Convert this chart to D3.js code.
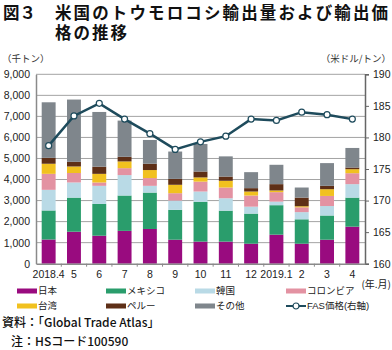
<!DOCTYPE html>
<html>
<head>
<meta charset="utf-8">
<script src="https://cdn.jsdelivr.net/npm/d3@7"></script>
<style>
  body { margin: 0; background: #fff; }
  svg { display: block; font-family: "Liberation Sans", "Noto Sans CJK JP", sans-serif; }
</style>
</head>
<body>
<div id="chart"></div>
<script>
// data (千トン, 米ドル/トン)
const months = ["2018.4", "5", "6", "7", "8", "9", "10", "11", "12", "2019.1", "2", "3", "4"];
const japan    = [1150, 1520, 1330, 1560, 1650, 1140, 1050, 1050, 950, 1380, 950, 1140, 1760];
const mexico   = [1380, 1620, 1510, 1680, 1730, 1420, 1890, 1470, 1430, 1400, 1160, 1150, 1380];
const korea    = [980, 720, 860, 970, 320, 440, 490, 590, 330, 170, 340, 450, 640];
const colombia = [760, 450, 160, 330, 370, 350, 470, 510, 530, 450, 230, 480, 520];
const taiwan   = [480, 310, 410, 320, 380, 400, 200, 320, 190, 80, 50, 320, 190];
const peru     = [280, 220, 340, 220, 300, 280, 280, 200, 160, 300, 410, 160, 80];
const other    = [2640, 2960, 2600, 1720, 1130, 1300, 1310, 960, 760, 920, 480, 1080, 930];
const fasPrice = [178.7, 183.4, 185.4, 182.9, 180.6, 178.1, 179.3, 180.2, 182.9, 182.7, 184.0, 183.6, 182.9];

const seriesNames = ["日本", "メキシコ", "韓国", "コロンビア", "台湾", "ペルー", "その他"];
const seriesKeys = ["japan", "mexico", "korea", "colombia", "taiwan", "peru", "other"];
const colors = ["#990b7f", "#2a9d6c", "#b9dae6", "#e392a2", "#f1c11f", "#5e2f17", "#7f868c"];
const leftTicks = [0, 1000, 2000, 3000, 4000, 5000, 6000, 7000, 8000, 9000];
const rightTicks = [160, 165, 170, 175, 180, 185, 190];

const width = 392, height = 350;
const margin = { top: 74.3, right: 27, bottom: 86.3, left: 36 };

const table = months.map((m, i) => ({
  month: m, japan: japan[i], mexico: mexico[i], korea: korea[i], colombia: colombia[i],
  taiwan: taiwan[i], peru: peru[i], other: other[i], price: fasPrice[i]
}));

const svg = d3.select("#chart").append("svg")
  .attr("width", width)
  .attr("height", height);

// title
const jp = "'Noto Sans CJK JP', sans-serif";
svg.append("text").attr("x", 3).attr("y", 19).attr("font-family", jp).attr("font-weight", 700)
  .attr("font-size", 16.5).attr("fill", "#111").text("図３");
svg.append("text").attr("x", 55).attr("y", 19).attr("font-family", jp).attr("font-weight", 700)
  .attr("font-size", 16.5).attr("fill", "#111")
  .attr("textLength", 333).attr("lengthAdjust", "spacing")
  .text("米国のトウモロコシ輸出量および輸出価");
svg.append("text").attr("x", 55).attr("y", 39).attr("font-family", jp).attr("font-weight", 700)
  .attr("font-size", 16.5).attr("fill", "#111")
  .attr("textLength", 72).attr("lengthAdjust", "spacing")
  .text("格の推移");

// scales
const x = d3.scaleBand()
  .domain(months)
  .range([margin.left, width - margin.right])
  .paddingInner(0.45)
  .paddingOuter(0.225);

const y = d3.scaleLinear()
  .domain([0, 9000])
  .range([height - margin.bottom, margin.top]);

const yRight = d3.scaleLinear()
  .domain([160, 190])
  .range([height - margin.bottom, margin.top]);

// grid
svg.append("g")
  .selectAll("line")
  .data(leftTicks.slice(1))
  .join("line")
  .attr("x1", margin.left)
  .attr("x2", width - margin.right)
  .attr("y1", d => y(d))
  .attr("y2", d => y(d))
  .attr("stroke", "#a3a3a3")
  .attr("stroke-width", 1);

// stacked bars
const stack = d3.stack().keys(seriesKeys);
const layers = stack(table);

svg.append("g")
  .selectAll("g")
  .data(layers)
  .join("g")
  .attr("fill", (d, i) => colors[i])
  .selectAll("rect")
  .data(d => d)
  .join("rect")
  .attr("x", d => x(d.data.month))
  .attr("y", d => y(d[1]))
  .attr("width", x.bandwidth())
  .attr("height", d => y(d[0]) - y(d[1]));

// axes
const yAxis = d3.axisLeft(y).tickValues(leftTicks).tickSize(0).tickPadding(6)
  .tickFormat(d3.format(","));
const yAxisGroup = svg.append("g")
  .attr("transform", `translate(${margin.left}, 0)`)
  .call(yAxis);
yAxisGroup.select(".domain").attr("stroke", "#8a8a8a").attr("stroke-width", 1.5);

const yAxisR = d3.axisRight(yRight).tickValues(rightTicks).tickSize(4).tickPadding(4);
const yAxisRGroup = svg.append("g")
  .attr("transform", `translate(${width - margin.right}, 0)`)
  .call(yAxisR);
yAxisRGroup.select(".domain").attr("stroke", "#666").attr("stroke-width", 1.5);
yAxisRGroup.selectAll(".tick line").attr("stroke", "#666");

const xAxisGroup = svg.append("g")
  .attr("transform", `translate(0, ${height - margin.bottom})`)
  .call(d3.axisBottom(x).tickSize(0).tickPadding(7));
xAxisGroup.select(".domain").attr("stroke", "#8a8a8a").attr("stroke-width", 1.5);

// small ticks between categories
xAxisGroup.selectAll(".sep")
  .data(months.slice(1))
  .join("line")
  .attr("class", "sep")
  .attr("x1", d => x(d) - x.step() * x.paddingInner() / 2)
  .attr("x2", d => x(d) - x.step() * x.paddingInner() / 2)
  .attr("y1", 0)
  .attr("y2", 3)
  .attr("stroke", "#8a8a8a");

svg.selectAll(".tick text")
  .attr("font-size", 10.5)
  .attr("fill", "#222");

// FAS price line
const line = d3.line()
  .x(d => x(d.month) + x.bandwidth() / 2)
  .y(d => yRight(d.price));

svg.append("path")
  .datum(table)
  .attr("fill", "none")
  .attr("stroke", "#1e4b5c")
  .attr("stroke-width", 2.5)
  .attr("d", line);

svg.append("g")
  .selectAll("circle")
  .data(table)
  .join("circle")
  .attr("cx", d => x(d.month) + x.bandwidth() / 2)
  .attr("cy", d => yRight(d.price))
  .attr("r", 3)
  .attr("fill", "#fff")
  .attr("stroke", "#1e4b5c")
  .attr("stroke-width", 1.2);

// unit labels
svg.append("text").attr("x", 2).attr("y", 62).attr("font-size", 9.5).attr("fill", "#333")
  .attr("font-family", jp).text("（千トン）");
svg.append("text").attr("x", 391).attr("y", 62).attr("font-size", 9.5).attr("fill", "#333")
  .attr("font-family", jp).attr("text-anchor", "end").text("（米ドル/トン）");
svg.append("text").attr("x", 391).attr("y", 288).attr("font-size", 10).attr("fill", "#222")
  .attr("font-family", jp).attr("text-anchor", "end").text("(年.月)");

// legend
const legendX = [17, 106, 195, 286];
const legendItems = seriesNames.map((n, i) => ({ name: n, color: colors[i], type: "bar" }));
legendItems.push({ name: "FAS価格(右軸)", color: "#1e4b5c", type: "line" });

const legend = svg.append("g");
legendItems.forEach((item, k) => {
  const col = k % 4, row = Math.floor(k / 4);
  const lx = legendX[col], ly = 291 + row * 15;
  const g = legend.append("g").attr("transform", `translate(${lx}, ${ly})`);
  if (item.type === "bar") {
    g.append("rect").attr("x", 0).attr("y", -2.5).attr("width", 20).attr("height", 5).attr("fill", item.color);
  } else {
    g.append("line").attr("x1", 0).attr("x2", 20).attr("y1", 0).attr("y2", 0)
      .attr("stroke", item.color).attr("stroke-width", 2);
    g.append("circle").attr("cx", 10).attr("cy", 0).attr("r", 3)
      .attr("fill", "#fff").attr("stroke", item.color).attr("stroke-width", 1.2);
  }
  g.append("text").attr("x", 21).attr("y", 3.4).attr("font-size", 9.5).attr("fill", "#222")
    .attr("font-family", item.type === "line" ? null : jp)
    .text(item.name);
});

// source notes
svg.append("text").attr("x", 2).attr("y", 327).attr("font-size", 12).attr("fill", "#111")
  .attr("font-family", jp).attr("font-weight", 500)
  .text("資料：「Global Trade Atlas」");
svg.append("text").attr("x", 11).attr("y", 346).attr("font-size", 12).attr("fill", "#111")
  .attr("font-family", jp).attr("font-weight", 500)
  .text("注：HSコード100590");
</script>
</body>
</html>
